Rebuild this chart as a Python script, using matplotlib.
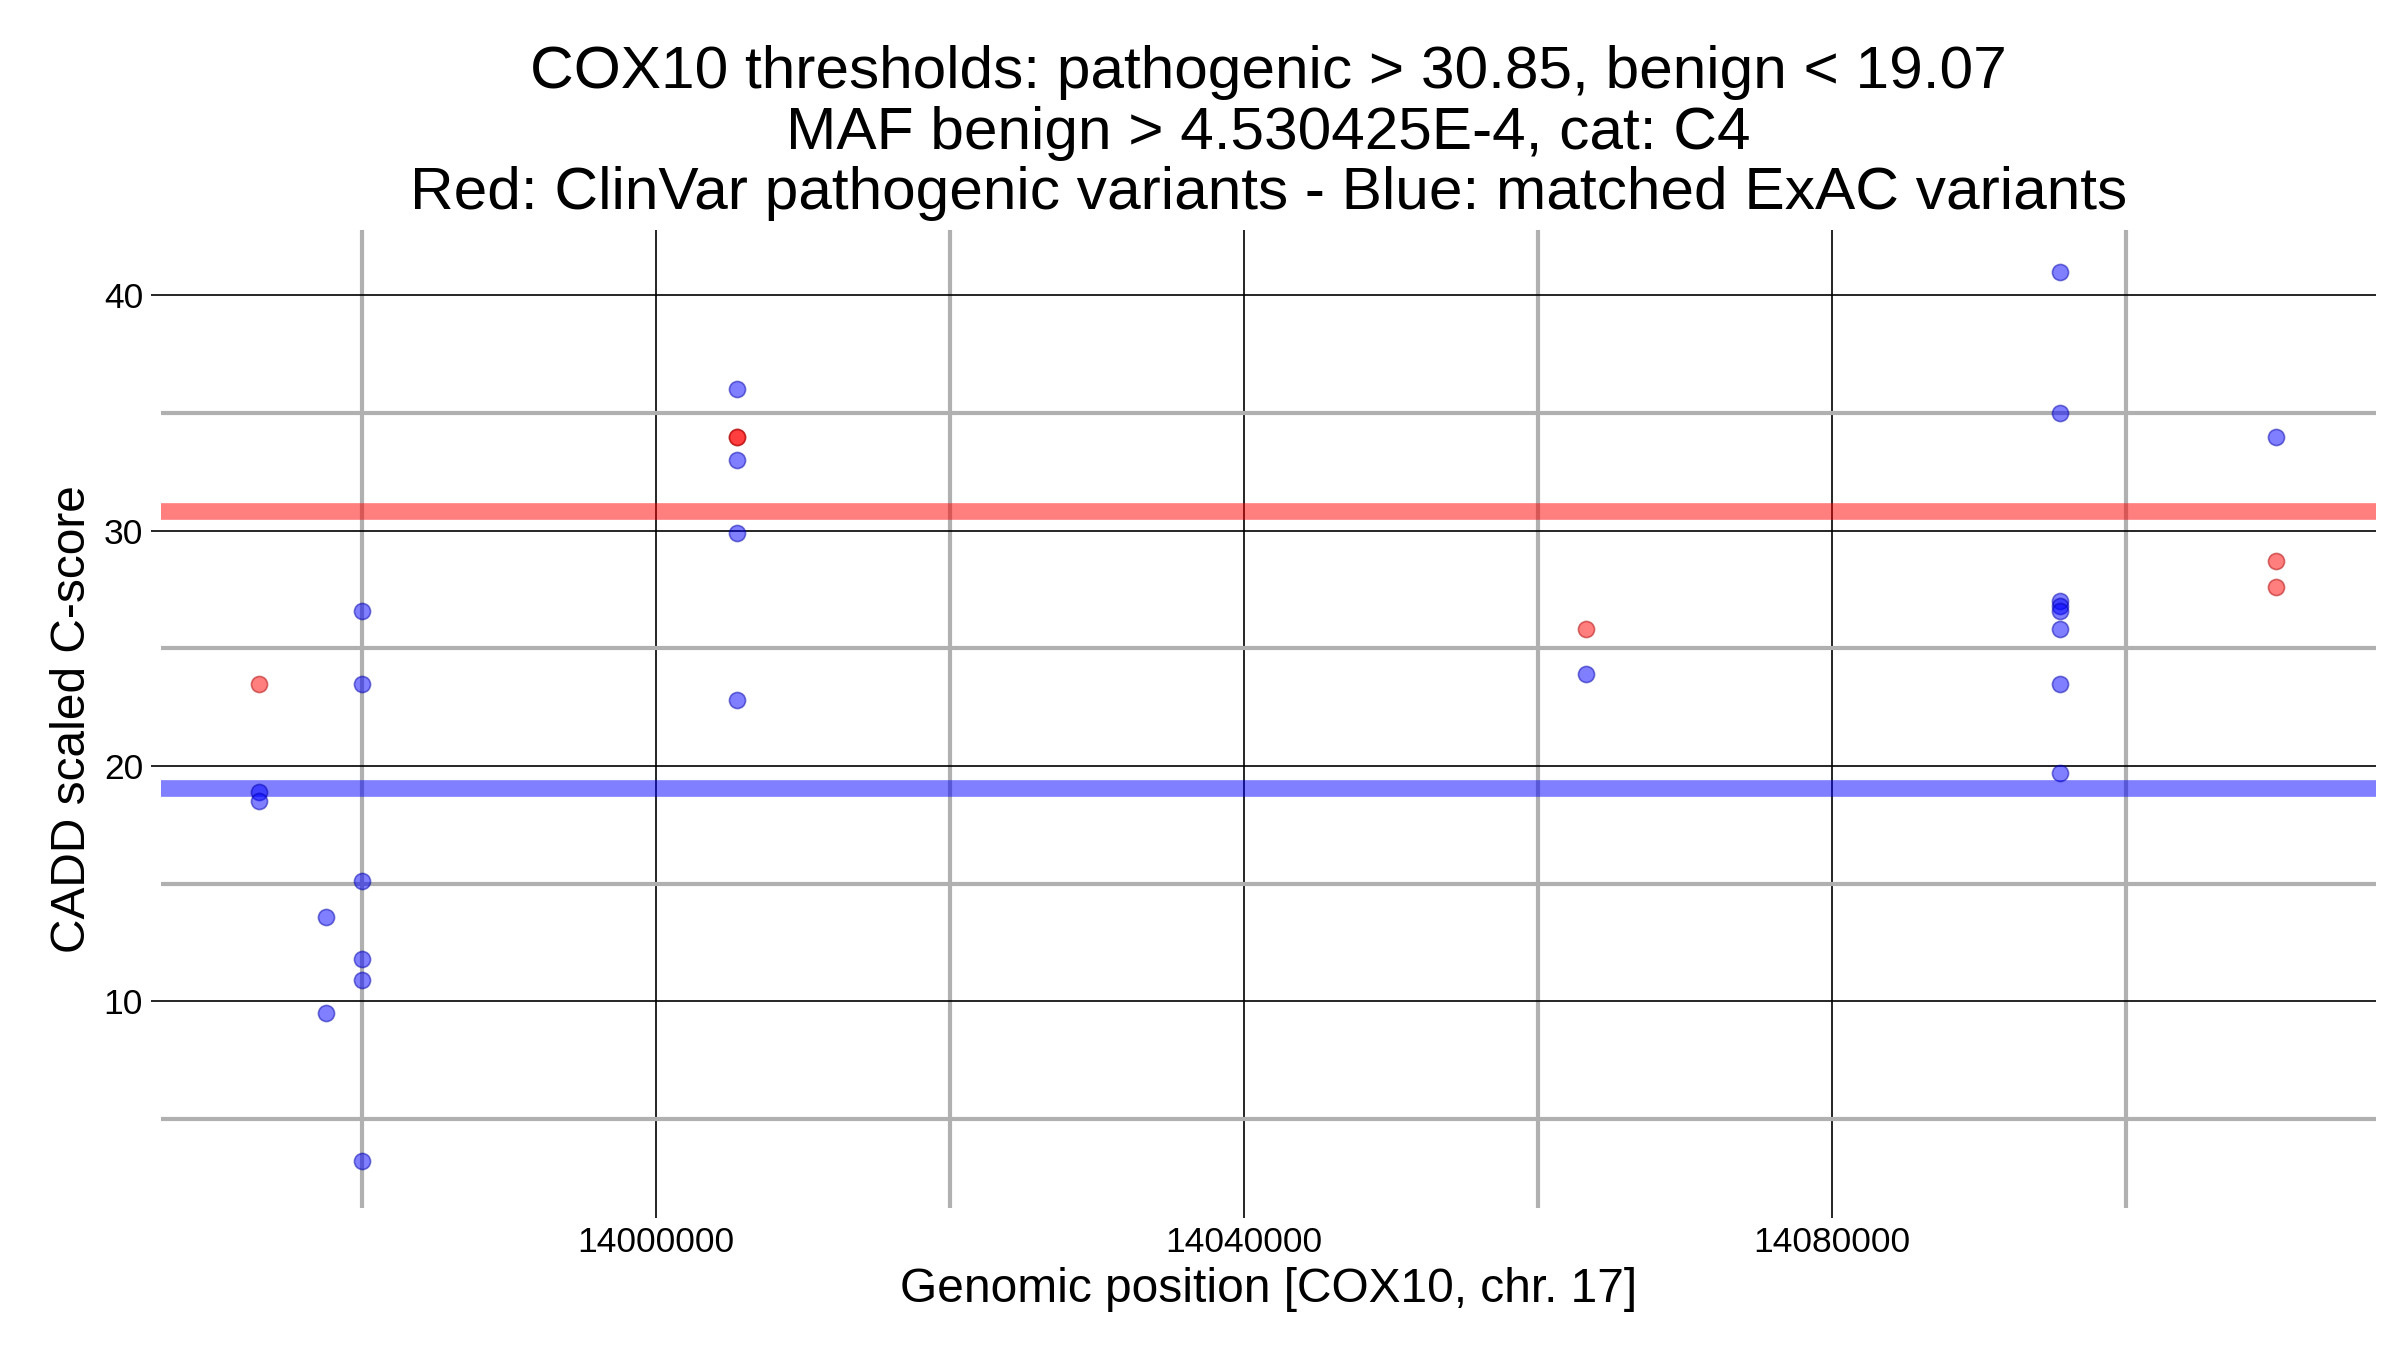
import matplotlib
matplotlib.use("Agg")
import matplotlib.pyplot as plt

red_x = [13972990, 14005530, 14005530, 14063310, 14110240, 14110240]
red_y = [23.5, 34.0, 34.0, 25.8, 28.7, 27.6]
blue_x = [13972990, 13972990, 13977580, 13977580,
          13979970, 13979970, 13979970, 13979970, 13979970, 13979970,
          14005530, 14005530, 14005530, 14005530, 14063310,
          14095540, 14095540, 14095540, 14095540, 14095540, 14095540, 14095540, 14095540,
          14110240]
blue_y = [18.9, 18.5, 13.6, 9.5,
          26.6, 23.5, 15.1, 11.8, 10.9, 3.2,
          36.0, 33.0, 29.9, 22.8, 23.9,
          41.0, 35.0, 27.0, 26.8, 26.6, 25.8, 23.5, 19.7,
          34.0]
path_thr = 30.85
benign_thr = 19.07
xticks = [14000000, 14040000, 14080000]
xminor = [13980000, 14020000, 14060000, 14100000]
yticks = [10, 20, 30, 40]
yminor = [5, 15, 25, 35]

plt.rcParams['font.family'] = ['Liberation Sans', 'DejaVu Sans']
fig, ax = plt.subplots(figsize=(16, 9), dpi=150)
fig.subplots_adjust(left=0.067, right=0.99, top=0.83, bottom=0.105)
ax.set_xlim(13966310, 14117030)
ax.set_ylim(1.2, 42.8)
for s in ax.spines.values():
    s.set_visible(False)
ax.set_xticks(xticks)
ax.set_xticklabels([str(v) for v in xticks])
ax.set_xticks(xminor, minor=True)
ax.set_yticks(yticks)
ax.set_yticks(yminor, minor=True)
ax.grid(which='major', color='black', linewidth=0.8)
ax.grid(which='minor', color='#b0b0b0', linewidth=2)
ax.tick_params(which='minor', length=0)
ax.tick_params(which='major', labelsize=17, length=5, color='black')
ax.set_axisbelow(True)
ax.axhline(path_thr, color='red', alpha=0.5, linewidth=8)
ax.axhline(benign_thr, color='blue', alpha=0.5, linewidth=8)
ax.scatter(blue_x, blue_y, s=60, color='blue', alpha=0.5, edgecolors='#0000aa', linewidths=0.8, zorder=3)
ax.scatter(red_x, red_y, s=60, color='red', alpha=0.5, edgecolors='#aa0000', linewidths=0.8, zorder=3)
ax.set_xlabel('Genomic position [COX10, chr. 17]', fontsize=23)
ax.set_ylabel('CADD scaled C-score', fontsize=23)
ax.set_title('COX10 thresholds: pathogenic > 30.85, benign < 19.07\nMAF benign > 4.530425E-4, cat: C4\n'
             'Red: ClinVar pathogenic variants - Blue: matched ExAC variants', fontsize=29, linespacing=1.12, pad=10)
fig.savefig('out.png')
